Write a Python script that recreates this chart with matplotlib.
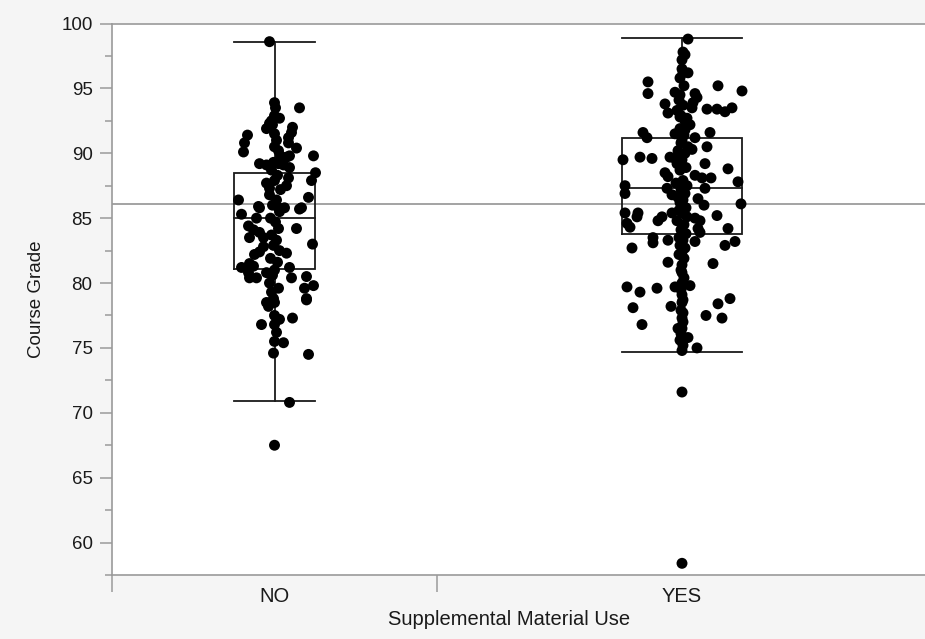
import matplotlib
matplotlib.use("Agg")
import matplotlib.pyplot as plt
import numpy as np

# ---------------- data ----------------
categories = ["NO", "YES"]

no_grades = [98.6, 93.9, 93.5, 92.9, 92.5, 91.9, 92.3, 92.7, 92.0, 91.6,
             91.4, 90.8, 90.1, 91.5, 91.0, 90.5, 90.2, 91.2, 90.8, 90.4,
             89.8, 89.7, 89.8, 89.2, 89.1, 89.3, 89.2, 89.1, 88.9, 88.5,
             87.9, 87.7, 87.3, 88.1, 87.5, 86.6, 86.4, 85.9, 85.8, 85.3,
             85.8, 85.7, 85.8, 85.8, 85.0, 84.4, 84.2, 84.1, 83.9, 83.5,
             83.5, 83.0, 82.8, 82.4, 82.2, 82.3, 81.2, 81.5, 81.3, 80.8,
             80.4, 80.4, 80.8, 81.2, 80.4, 80.5, 79.8, 79.6, 78.8, 80.0,
             79.3, 78.8, 78.5, 78.2, 78.5, 78.7, 77.5, 77.2, 76.8, 76.8,
             77.3, 76.2, 75.5, 75.4, 74.6, 74.5, 70.8, 67.5,
             88.7, 88.3, 87.9, 87.2, 86.8, 86.4, 86.0, 85.5, 85.0, 84.7,
             84.2, 83.7, 83.3, 82.9, 82.5, 81.9, 81.6, 81.0, 80.6, 79.6,
             93.5, 92.2, 89.8]
# horizontal jitter (pixels from the category centre)
no_jitter = [-5, 0, 25, 0, -3, -8, -5, 5, 18, 17,
             -27, -30, -31, 0, 2, 0, 4, 14, 14, 22,
             39, 12, 15, -15, -8, -1, 4, 9, 15, 41,
             37, -8, -5, 14, 12, 34, -36, -16, -15, -33,
             10, 25, 27, 4, -18, -26, 22, -21, -15, -25,
             -11, 38, -11, -15, -20, 12, -33, -25, -21, -26,
             -18, -25, -8, 15, 17, 32, 39, 30, 32, -5,
             -3, -1, -8, -6, 0, 32, 0, 5, 0, -13,
             18, 2, 0, 9, -1, 34, 15, 0,
             -3, 3, 0, 6, -5, 2, -2, 5, -4, 1,
             4, -3, 2, -1, 5, -4, 3, 0, -2, 4,
             1, -2, 6]

yes_grades = [98.8, 97.8, 97.6, 96.5, 96.2, 96.2, 95.5, 94.6, 95.2, 94.8,
              94.7, 94.5, 94.6, 94.3, 93.8, 93.9, 93.5, 93.4, 93.4, 93.2,
              93.5, 93.1, 93.3, 92.8, 92.7, 92.2, 91.8, 91.6, 91.2, 91.6,
              91.5, 91.0, 91.2, 90.5, 90.5, 89.5, 89.7, 89.6, 89.7, 89.6,
              90.3, 89.2, 88.8, 88.5, 88.2, 88.3, 88.1, 88.1, 87.8, 87.5,
              86.9, 87.3, 86.8, 87.3, 86.5, 86.0, 86.1, 85.4, 84.6, 84.3,
              85.4, 85.1, 85.1, 84.8, 85.4, 85.0, 84.8, 84.2, 83.9, 85.2,
              84.2, 83.5, 83.1, 83.3, 82.7, 83.2, 82.9, 83.2, 81.6, 81.5,
              81.4, 80.8, 79.7, 79.3, 79.6, 79.7, 79.8, 80.0, 78.1, 76.8,
              78.2, 79.1, 78.5, 77.7, 77.3, 77.5, 78.4, 78.8, 77.3, 76.5,
              76.5, 75.6, 75.8, 74.8, 75.0, 71.6, 58.4,
              97.2, 95.8, 95.2, 94.1, 93.7, 92.9, 92.5, 91.9, 91.4, 90.8,
              90.2, 90.0, 89.5, 89.2, 88.9, 88.7, 87.9, 87.7, 87.5, 87.2,
              86.9, 86.6, 86.4, 86.2, 85.8, 85.6, 85.4, 85.1, 84.8, 84.5,
              84.1, 83.8, 83.5, 83.3, 82.9, 82.7, 82.4, 82.2, 81.9, 81.0,
              80.4, 79.5, 78.7, 77.9, 77.0, 76.1, 75.2]
yes_jitter = [6, 1, 3, 0, 1, 6, -34, -34, 36, 60,
              -7, -2, 13, 15, -17, 11, 10, 25, 35, 43,
              50, -14, -5, -2, 5, 8, 3, -39, -35, 28,
              -7, 0, 13, 25, 6, -59, -42, -30, -12, -7,
              10, 23, 46, -17, -14, 13, 20, 29, 56, -57,
              -57, -15, -10, 23, 16, 22, 59, -57, -55, -52,
              -44, -45, -20, -24, -10, 13, 18, 16, 18, 35,
              46, -29, -29, -14, -50, 13, 43, 53, -14, 31,
              0, 0, -55, -42, -25, -7, 8, 0, -49, -40,
              -11, 0, 0, 1, 0, 24, 36, 48, 40, -4,
              0, -2, 6, 0, 15, 0, 0,
              0, -2, 2, -3, 1, -1, 3, -2, 2, -1,
              -4, 3, 0, -5, 4, -2, 1, -6, 5, -1,
              3, -4, 1, -2, 4, -3, 0, 5, -5, 2,
              -1, 4, -3, 1, -2, 3, 0, -3, 2, -1,
              2, -1, 1, -1, 1, -1, 1]

# box statistics: whisker low, Q1, median, Q3, whisker high
no_box = [70.9, 81.1, 85.0, 88.5, 98.6]
yes_box = [74.7, 83.75, 87.3, 91.2, 98.85]
grand_mean = 86.1

y_ticks = [60, 65, 70, 75, 80, 85, 90, 95, 100]
x_label = "Supplemental Material Use"
y_label = "Course Grade"

# ---------------- layout ----------------
W, H = 925, 639
plt.rcParams["font.family"] = ["Liberation Sans", "DejaVu Sans"]
font = ["Liberation Sans", "DejaVu Sans"]

fig = plt.figure(figsize=(W / 100, H / 100), dpi=100, facecolor="#f5f5f5")
ax = fig.add_axes([112 / W, 64 / H, (W - 112) / W, 551.5 / H])
ax.set_facecolor("white")

# category regions (pixel-like units along the x axis)
region_edges = [0, 325, 815]
centers = [(region_edges[i] + region_edges[i + 1]) / 2 for i in range(2)]
box_half = [40.5, 60]

axis_col = "#9a9a9a"
ink = "#1a1a1a"

ax.axhline(grand_mean, color="#8a8a8a", lw=1.1, zorder=1)

for c, hw, stats in zip(centers, box_half, [no_box, yes_box]):
    wl, q1, med, q3, wh = stats
    lw = 1.3
    ax.plot([c - hw, c + hw, c + hw, c - hw, c - hw], [q1, q1, q3, q3, q1],
            color=ink, lw=lw, zorder=2, solid_joinstyle="miter")
    ax.plot([c - hw, c + hw], [med, med], color=ink, lw=lw, zorder=2)
    ax.plot([c, c], [q3, wh], color=ink, lw=lw, zorder=2)
    ax.plot([c, c], [wl, q1], color=ink, lw=lw, zorder=2)
    ax.plot([c - hw, c + hw], [wh, wh], color=ink, lw=lw, zorder=2)
    ax.plot([c - hw, c + hw], [wl, wl], color=ink, lw=lw, zorder=2)

for c, grades, jit in zip(centers, [no_grades, yes_grades], [no_jitter, yes_jitter]):
    xs = c + np.array(jit[:len(grades)], dtype=float)
    ax.scatter(xs, grades, s=62, color="black", edgecolors="none", zorder=3)

ax.set_xlim(0, 813)
ax.set_ylim(57.5, 100)

for sp in ["left", "bottom", "top"]:
    ax.spines[sp].set_color(axis_col)
    ax.spines[sp].set_linewidth(1.2)
ax.spines["right"].set_visible(False)

ax.set_yticks(y_ticks)
ax.set_yticklabels([str(t) for t in y_ticks], fontsize=13.5, color=ink, family=font)
ax.set_yticks(np.arange(57.5, 100, 5), minor=True)
ax.tick_params(axis="y", which="major", length=9, width=1.1, color=axis_col, pad=5)
ax.tick_params(axis="y", which="minor", length=5, width=1.1, color=axis_col)

# x: ticks at region edges, labels at centres
ax.set_xticks(region_edges[:2])
ax.set_xticklabels(["", ""])
ax.tick_params(axis="x", which="major", length=12, width=1.1, color=axis_col)
ax.set_xticks(centers, minor=True)
ax.set_xticklabels(categories, minor=True, fontsize=14.5, color=ink, family=font)
ax.tick_params(axis="x", which="minor", length=0, pad=9)

fig.text(509.5 / W, 1 - 619.5 / H, x_label, fontsize=14.5, color=ink, family=font,
         ha="center", va="center")
ax.set_ylabel(y_label, fontsize=13.5, color=ink, family=font, labelpad=12)

fig.savefig("out.png", dpi=100, facecolor=fig.get_facecolor())
